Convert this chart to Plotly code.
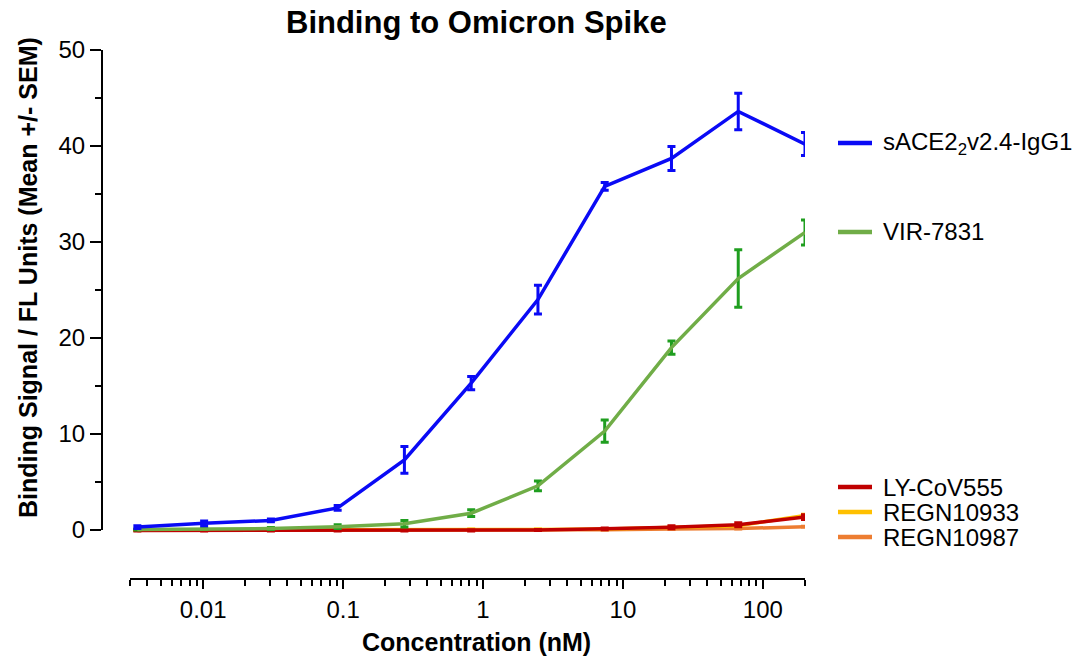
import plotly.graph_objects as go
import math

# ---------------- data ----------------
conc_nM = [0.003387, 0.01016, 0.03048, 0.09145, 0.2743, 0.823, 2.469, 7.407, 22.22, 66.67, 200.0]

ace2 = [0.3, 0.7, 1.0, 2.3, 7.3, 15.3, 24.0, 35.8, 38.7, 43.6, 40.2]
ace2_sem = [0.15, 0.25, 0.15, 0.25, 1.4, 0.7, 1.5, 0.4, 1.25, 1.9, 1.2]

vir = [0.05, 0.1, 0.15, 0.35, 0.65, 1.75, 4.6, 10.3, 19.0, 26.2, 31.0]
vir_sem = [0.05, 0.05, 0.1, 0.2, 0.35, 0.35, 0.5, 1.15, 0.7, 3.0, 1.3]

ly555 = [-0.05, -0.05, -0.05, -0.05, -0.05, -0.05, 0.0, 0.12, 0.28, 0.55, 1.35]
ly555_sem = [0.05, 0.05, 0.05, 0.05, 0.05, 0.05, 0.05, 0.1, 0.15, 0.2, 0.25]

regn33 = [0.0, 0.0, 0.0, 0.0, 0.0, 0.05, 0.05, 0.1, 0.25, 0.45, 1.5]
regn33_sem = [0.05, 0.05, 0.05, 0.05, 0.05, 0.05, 0.05, 0.05, 0.1, 0.1, 0.15]

regn87 = [0.0, 0.0, 0.0, 0.0, 0.0, 0.0, 0.0, 0.02, 0.1, 0.15, 0.35]
regn87_sem = [0.03, 0.03, 0.03, 0.03, 0.03, 0.03, 0.03, 0.03, 0.05, 0.05, 0.05]

x_major = [0.01, 0.1, 1, 10, 100]
x_major_text = ["0.01", "0.1", "1", "10", "100"]
x_minor = ([m * 0.001 for m in range(3, 10)] + [m * 0.01 for m in range(2, 10)] +
           [m * 0.1 for m in range(2, 10)] + [m * 1.0 for m in range(2, 10)] +
           [m * 10.0 for m in range(2, 10)] + [200])
y_major = [0, 10, 20, 30, 40, 50]
y_minor = [5, 15, 25, 35, 45]
x_axis_ends = [0.003, 200]
y_axis_ends = [0, 50]

series = [
    # name, y, sem, line colour, error colour, legend y (px)
    ("REGN10987", regn87, regn87_sem, "#ed7d31", "#ed7d31", 537),
    ("REGN10933", regn33, regn33_sem, "#ffc000", "#ffc000", 512),
    ("LY-CoV555", ly555, ly555_sem, "#c00000", "#c00000", 487),
    ("VIR-7831", vir, vir_sem, "#70ad47", "#1f9e1f", 232),
    ("sACE2<sub>2</sub>v2.4-IgG1", ace2, ace2_sem, "#0a0af5", "#0a0af5", 143),
]

# ---------------- layout geometry ----------------
W, H = 1077, 657
L, R, T, B = 102, 805, 50, 579   # plot area in pixels
FONT = "Liberation Sans, Arial, sans-serif"

def px(x):
    return (x - L) / (R - L)

def py(y):
    return (B - y) / (B - T)

x_lo_data = math.log10(x_axis_ends[0])
x_hi_data = math.log10(x_axis_ends[1])
ppd = (R - 130) / (x_hi_data - x_lo_data)
x_range = [x_lo_data - (130 - L) / ppd, x_hi_data]
y_range = [-(B - 530) / ((530 - T) / 50.0), 50]

fig = go.Figure()
for name, y, sem, lc, ec, ly in series:
    fig.add_trace(go.Scatter(
        x=conc_nM, y=y, mode="lines", name=name,
        line=dict(color=lc, width=3.5),
        error_y=dict(type="data", array=sem, visible=True, color=ec,
                     thickness=3, width=4),
        cliponaxis=False, showlegend=False,
    ))

shapes = [
    # detached axis lines (Prism style)
    dict(type="line", xref="x", yref="paper", x0=x_axis_ends[0], x1=x_axis_ends[1],
         y0=0, y1=0, line=dict(color="black", width=2)),
    dict(type="line", xref="paper", yref="y", x0=0, x1=0, y0=y_axis_ends[0], y1=y_axis_ends[1],
         line=dict(color="black", width=2)),
]
annotations = []
for name, y, sem, lc, ec, ly in series:
    shapes.append(dict(type="line", xref="paper", yref="paper",
                       x0=px(838), x1=px(872), y0=py(ly), y1=py(ly),
                       line=dict(color=lc, width=4.5)))
    annotations.append(dict(text=name, xref="paper", yref="paper",
                            x=px(881), y=py(ly), xanchor="left", yanchor="middle",
                            showarrow=False, font=dict(size=24, color="black", family=FONT)))

annotations.append(dict(text="<b>Binding to Omicron Spike</b>", xref="paper", yref="paper",
                        x=px(476), y=py(23), xanchor="center", yanchor="middle",
                        showarrow=False, font=dict(size=31, color="black", family=FONT)))
annotations.append(dict(text="<b>Concentration (nM)</b>", xref="paper", yref="paper",
                        x=px(477), y=py(642), xanchor="center", yanchor="middle",
                        showarrow=False, font=dict(size=25, color="black", family=FONT)))
annotations.append(dict(text="<b>Binding Signal / FL Units (Mean +/- SEM)</b>", xref="paper",
                        yref="paper", x=px(28), y=py(278), xanchor="center", yanchor="middle",
                        textangle=-90, showarrow=False,
                        font=dict(size=25, color="black", family=FONT)))

fig.update_layout(
    width=W, height=H,
    margin=dict(l=L, r=W - R, t=T, b=H - B, pad=0),
    paper_bgcolor="white", plot_bgcolor="white",
    font=dict(family=FONT, color="black"),
    showlegend=False,
    shapes=shapes, annotations=annotations,
    xaxis=dict(type="log", range=x_range, showgrid=False, zeroline=False, showline=False,
               tickmode="array", tickvals=x_major, ticktext=x_major_text,
               ticks="outside", ticklen=9, tickwidth=2, tickcolor="black",
               tickfont=dict(size=24, family=FONT, color="black"),
               minor=dict(tickmode="array", tickvals=x_minor, ticks="outside",
                          ticklen=6, tickwidth=2, tickcolor="black", showgrid=False)),
    yaxis=dict(range=y_range, showgrid=False, zeroline=False, showline=False,
               tickmode="array", tickvals=y_major,
               ticks="outside", ticklen=11, tickwidth=2, tickcolor="black",
               tickfont=dict(size=24, family=FONT, color="black"),
               minor=dict(tickmode="array", tickvals=y_minor, ticks="outside",
                          ticklen=6, tickwidth=2, tickcolor="black", showgrid=False)),
)

# remove the browser's default 8px page margin so the figure fills the window exactly
fig.write_html("out.html",
               config={"displayModeBar": False, "staticPlot": True},
               post_script="document.body.style.margin='0';document.body.style.overflow='hidden';")
